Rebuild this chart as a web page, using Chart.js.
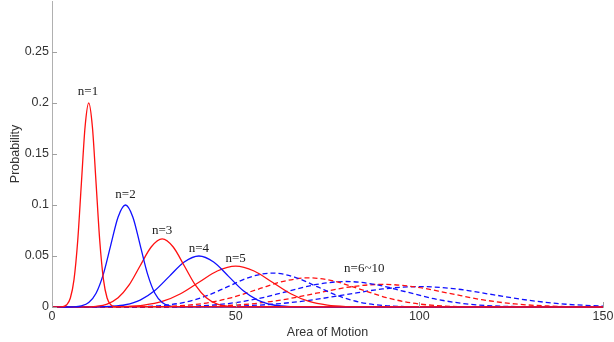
<!DOCTYPE html>
<html>
<head>
<meta charset="utf-8">
<style>
  html, body { margin: 0; padding: 0; background: #fff; }
  #wrap { width: 614px; height: 342px; position: relative; }
</style>
<script src="https://cdn.jsdelivr.net/npm/chart.js@4/dist/chart.umd.min.js"></script>
</head>
<body>
<div id="wrap"><canvas id="chart"></canvas></div>
<script>
/* ---- data ---- */
var xTicks = [0, 50, 100, 150];
var yTicks = [0, 0.05, 0.1, 0.15, 0.2, 0.25];

var area1 = [0, 3, 4, 5, 6, 7, 8, 9, 10, 11, 12, 13, 14, 15, 16, 17, 150];
var prob1 = [0, 0.0004, 0.0022, 0.0088, 0.0271, 0.0649, 0.1213, 0.1765, 0.2, 0.1765, 0.1213, 0.0649, 0.0271, 0.0088, 0.0022, 0.0004, 0];

var area2 = [0, 6, 8, 10, 12, 14, 16, 18, 20, 22, 24, 26, 28, 30, 32, 34, 150];
var prob2 = [0, 0.0002, 0.0011, 0.0044, 0.0135, 0.0325, 0.0607, 0.0883, 0.1, 0.0883, 0.0607, 0.0325, 0.0135, 0.0044, 0.0011, 0.0002, 0];

var area3 = [0, 9, 12, 15, 18, 21, 24, 27, 30, 33, 36, 39, 42, 45, 48, 51, 150];
var prob3 = [0, 0.0001, 0.0007, 0.0029, 0.009, 0.0216, 0.0404, 0.0588, 0.0667, 0.0588, 0.0404, 0.0216, 0.009, 0.0029, 0.0007, 0.0001, 0];

var area4 = [0, 12, 16, 20, 24, 28, 32, 36, 40, 44, 48, 52, 56, 60, 64, 68, 150];
var prob4 = [0, 0.0001, 0.0006, 0.0022, 0.0068, 0.0162, 0.0303, 0.0441, 0.05, 0.0441, 0.0303, 0.0162, 0.0068, 0.0022, 0.0006, 0.0001, 0];

var area5 = [0, 15, 20, 25, 30, 35, 40, 45, 50, 55, 60, 65, 70, 75, 80, 85, 150];
var prob5 = [0, 0.0001, 0.0004, 0.0018, 0.0054, 0.013, 0.0243, 0.0353, 0.04, 0.0353, 0.0243, 0.013, 0.0054, 0.0018, 0.0004, 0.0001, 0];

var area6 = [0, 18, 24, 30, 36, 42, 48, 54, 60, 66, 72, 78, 84, 90, 96, 102, 150];
var prob6 = [0, 0.0001, 0.0004, 0.0015, 0.0045, 0.0108, 0.0202, 0.0294, 0.0333, 0.0294, 0.0202, 0.0108, 0.0045, 0.0015, 0.0004, 0.0001, 0];

var area7 = [0, 21, 28, 35, 42, 49, 56, 63, 70, 77, 84, 91, 98, 105, 112, 119, 150];
var prob7 = [0, 0.0001, 0.0003, 0.0013, 0.0039, 0.0093, 0.0173, 0.0252, 0.0286, 0.0252, 0.0173, 0.0093, 0.0039, 0.0013, 0.0003, 0.0001, 0];

var area8 = [0, 24, 32, 40, 48, 56, 64, 72, 80, 88, 96, 104, 112, 120, 128, 136, 150];
var prob8 = [0, 0.0001, 0.0003, 0.0011, 0.0034, 0.0081, 0.0152, 0.0221, 0.025, 0.0221, 0.0152, 0.0081, 0.0034, 0.0011, 0.0003, 0.0001, 0];

var area9 = [0, 27, 36, 45, 54, 63, 72, 81, 90, 99, 108, 117, 126, 135, 144, 150];
var prob9 = [0, 0, 0.0002, 0.001, 0.003, 0.0072, 0.0135, 0.0196, 0.0222, 0.0196, 0.0135, 0.0072, 0.003, 0.001, 0.0002, 0.0001];

var area10 = [0, 30, 40, 50, 60, 70, 80, 90, 100, 110, 120, 130, 140, 150];
var prob10 = [0, 0, 0.0002, 0.0009, 0.0027, 0.0065, 0.0121, 0.0177, 0.02, 0.0177, 0.0121, 0.0065, 0.0027, 0.0009];

var curveAreas = [area1, area2, area3, area4, area5, area6, area7, area8, area9, area10];
var curveProbs = [prob1, prob2, prob3, prob4, prob5, prob6, prob7, prob8, prob9, prob10];

var labelTexts = ['n=1', 'n=2', 'n=3', 'n=4', 'n=5', 'n=6~10'];
var labelX     = [9.8, 20, 30, 40, 50, 85];
var labelY     = [0.211, 0.11, 0.075, 0.057, 0.047, 0.038];

/* ---- build datasets ---- */
var RED = '#ff1010', BLUE = '#1010ff';

var datasets = curveAreas.map(function (xs, i) {
    var pts = xs.map(function (x, j) { return { x: x, y: curveProbs[i][j] }; });
    return {
        data: pts,
        borderColor: i % 2 === 0 ? RED : BLUE,
        borderWidth: 1.3,
        borderDash: i >= 5 ? [5, 3] : [],
        pointRadius: 0,
        fill: false,
        cubicInterpolationMode: 'monotone',
        clip: 4
    };
});

/* inward tick marks + curve labels */
var extras = {
    id: 'extras',
    afterDraw: function (chart) {
        var ctx = chart.ctx;
        var xs = chart.scales.x, ys = chart.scales.y;
        var area = chart.chartArea;
        ctx.save();
        ctx.strokeStyle = '#a0a0a0';
        ctx.lineWidth = 1;
        ctx.beginPath();
        xTicks.forEach(function (v) {
            var px = Math.round(xs.getPixelForValue(v)) + 0.5;
            ctx.moveTo(px, area.bottom);
            ctx.lineTo(px, area.bottom - 5);
        });
        yTicks.forEach(function (v) {
            var py = Math.round(ys.getPixelForValue(v)) + 0.5;
            ctx.moveTo(area.left, py);
            ctx.lineTo(area.left + 5, py);
        });
        ctx.stroke();

        ctx.fillStyle = '#222';
        ctx.font = '13px "Liberation Serif", "DejaVu Serif", serif';
        ctx.textAlign = 'center';
        ctx.textBaseline = 'middle';
        labelTexts.forEach(function (t, i) {
            ctx.fillText(t, xs.getPixelForValue(labelX[i]), ys.getPixelForValue(labelY[i]));
        });
        ctx.restore();
    }
};

var axisFont = { family: '"Liberation Sans", Arial, sans-serif', size: 12.5 };

new Chart(document.getElementById('chart'), {
    type: 'line',
    data: { datasets: datasets },
    options: {
        responsive: true,
        maintainAspectRatio: false,
        animation: false,
        events: [],
        layout: { padding: { top: 1, right: 11, left: 0, bottom: 0 } },
        plugins: { legend: { display: false }, tooltip: { enabled: false } },
        scales: {
            x: {
                type: 'linear',
                min: 0, max: 150,
                afterBuildTicks: function (s) { s.ticks = xTicks.map(function (v) { return { value: v }; }); },
                afterFit: function (s) { s.height = 35; s.paddingLeft = 0; s.paddingRight = 0; },
                grid: { display: false, drawTicks: false },
                border: { display: true, color: '#b0b0b0', width: 1 },
                ticks: { color: '#333', font: axisFont, padding: 2, maxRotation: 0 },
                title: { display: true, text: 'Area of Motion', color: '#333', font: axisFont, padding: { top: 0, bottom: 2 } }
            },
            y: {
                type: 'linear',
                min: 0, max: 0.3,
                afterBuildTicks: function (s) { s.ticks = yTicks.map(function (v) { return { value: v }; }); },
                afterFit: function (s) { s.width = 52; s.paddingTop = 0; s.paddingBottom = 0; },
                grid: { display: false, drawTicks: false },
                border: { display: true, color: '#b0b0b0', width: 1 },
                ticks: {
                    color: '#333', font: axisFont, padding: 3,
                    callback: function (v) { return String(Number(v.toFixed(2))); }
                },
                title: { display: true, text: 'Probability', color: '#333', font: axisFont, padding: { top: 8, bottom: 0 } }
            }
        }
    },
    plugins: [extras]
});
</script>
</body>
</html>
